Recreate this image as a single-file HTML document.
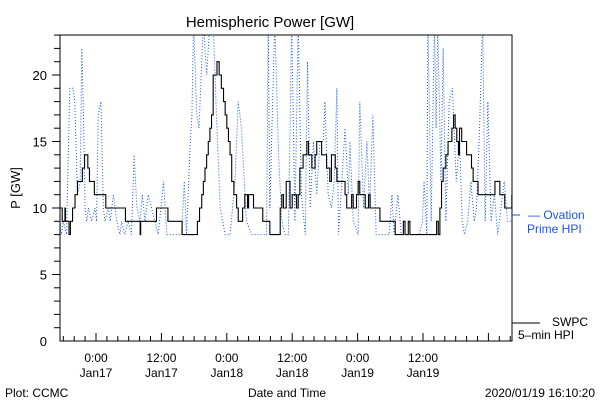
<!DOCTYPE html>
<html><head><meta charset="utf-8">
<style>
html,body{margin:0;padding:0;background:#fff;}
svg{display:block;font-family:"Liberation Sans",sans-serif;}
</style></head>
<body>
<svg id="chart" width="600" height="400" viewBox="0 0 600 400">
  <rect x="0" y="0" width="600" height="400" fill="#fff"/>
  <text x="270" y="27" font-size="15" text-anchor="middle">Hemispheric Power [GW]</text>
  <text transform="translate(20,188) rotate(-90)" font-size="13" text-anchor="middle">P [GW]</text>
  <defs><clipPath id="plotclip"><rect x="60" y="35" width="452" height="306"/></clipPath></defs>
  <g id="ticks"></g>
  <g id="series" clip-path="url(#plotclip)"></g>
  <path d="M60 35 V341 H512 V35 H60" fill="none" stroke="#000" stroke-width="1"/>
  <g>
    <line x1="512" y1="215" x2="520" y2="215" stroke="#1a55e6" stroke-width="1"/>
    <text x="528" y="219" font-size="12" fill="#1a55e6">— Ovation</text>
    <text x="527" y="233" font-size="12" fill="#1a55e6">Prime HPI</text>
  </g>
  <g>
    <line x1="512" y1="323" x2="540" y2="323" stroke="#000" stroke-width="1"/>
    <text x="552" y="326" font-size="12">SWPC</text>
    <text x="518" y="339" font-size="12">5–min HPI</text>
  </g>
  <text x="5" y="397" font-size="12">Plot: CCMC</text>
  <text x="287" y="397" font-size="12" text-anchor="middle">Date and Time</text>
  <text x="595" y="397" font-size="12" text-anchor="end">2020/01/19 16:10:20</text>
</svg>
<script>
// hours relative to 2020-01-17 00:00
const swpcTimes = [-6.6,-6.4,-6.2,-5.7,-5.6,-4.95,-4.7,-4.3,-3.85,-3.4,-2.5,-2.1,-1.5,-1.2,-0.3,1.8,5.4,8.1,8.2,11.1,13.2,15.8,18.2,18.6,19.0,19.4,19.7,20.0,20.3,20.6,20.9,21.2,21.5,22.0,22.2,22.6,23.0,23.4,23.7,24.0,24.3,24.6,24.9,25.3,25.8,26.1,26.7,26.9,27.3,27.8,28.0,28.8,28.9,30.4,30.6,31.8,31.9,33.5,33.8,34.1,34.4,34.9,35.3,35.6,36.0,36.8,37.1,37.4,38.0,38.7,39.0,39.6,40.2,40.5,41.1,41.4,42.0,42.3,42.9,43.2,43.9,44.2,45.1,45.7,46.0,46.9,47.2,47.8,48.1,48.4,49.4,50.0,50.3,50.6,51.8,52.1,54.6,54.9,56.1,56.4,56.7,57.3,57.6,62.2,62.5,62.8,63.1,63.4,63.7,64.2,64.6,65.3,65.6,65.9,66.2,66.5,66.7,67.1,67.7,68.0,68.6,68.9,69.2,70.1,72.9,73.2,73.8,74.1,74.7,75.0,76.0,76.3];
const swpcValues = [10,10,9,10,9,8,9,10,11,12,13,14,13,12,11,10,9,8,9,10,9,8,8,9,10,11,12,13,14,15,16,17,20,20,21,20,19,18,17,16,15,14,12,11,10,9,9,10,11,10,11,11,10,10,9,9,8,8,10,11,10,12,12,10,11,10,11,13,14,15,14,13,14,15,15,14,14,13,12,14,13,12,12,11,10,11,10,11,12,11,10,11,10,10,10,9,9,8,8,9,8,9,8,8,9,8,10,12,13,14,15,16,17,16,15,14,16,15,15,14,14,13,12,11,11,12,12,11,11,10,10,11];
const ovationTimes = [-6.6,-6.4,-6.0,-5.4,-5.2,-4.8,-4.2,-3.9,-3.4,-2.9,-2.6,-2.3,-2.0,-1.7,-1.4,-0.8,-0.2,0.1,0.4,0.9,1.35,1.65,2.3,2.6,3.2,3.8,4.4,4.7,5.3,5.9,6.5,7.0,7.5,8.1,8.5,9.0,9.6,10.2,10.8,11.4,12.4,13.0,14.5,15.7,16.2,16.6,17.3,17.6,17.9,18.5,18.9,19.4,19.7,20.3,20.9,21.5,22.1,22.8,23.7,24.6,25.5,26.1,26.7,27.6,28.6,31.3,31.6,31.9,32.8,33.5,34.1,34.7,35.3,35.9,36.5,37.1,37.7,38.4,38.8,39.3,39.9,40.5,41.1,41.7,42.0,42.6,43.2,43.7,44.2,44.5,45.1,45.7,46.3,46.6,47.2,48.1,48.4,49.1,49.7,50.2,50.8,51.4,53.8,54.3,54.7,55.4,56.0,59.3,59.9,60.2,60.7,60.9,61.5,62.1,62.4,62.7,63.3,63.7,64.2,64.8,65.4,66.1,66.7,67.2,67.6,68.2,68.8,69.4,69.8,70.3,70.95,71.4,71.9,72.5,73.1,73.7,74.3,74.9,75.5,76.3];
const ovationValues = [9,8,9,8,12,19,19,18,11,12,22,17,10,9,10,9,10,9,17,18,10,9,10,9,11,9,8,9,8,9,8,14,10,9,11,9,11,10,9,8,12,8,8,8,12,8,15,17,24,17,16,21,24,20,24,24,17,10,8,8,12,18,16,9,8,8,24,10,24,14,9,8,8,24,9,24,11,8,21,10,15,11,15,15,18,11,10,12,19,8,12,16,11,15,9,8,18,10,15,10,17,8,8,11,8,11,8,8,9,12,8,24,9,24,16,24,12,22,9,18,19,12,15,9,8,9,12,9,10,15,24,9,18,9,11,8,10,12,9,9];
const yTickLabels = ["0","5","10","15","20"];
const yTickValues = [0,5,10,15,20];
const xMajorHours = [0,12,24,36,48,60];
const xTimeLabels = ["0:00","12:00","0:00","12:00","0:00","12:00"];
const xDateLabels = ["Jan17","Jan17","Jan18","Jan18","Jan19","Jan19"];

const X0 = 96, PX_PER_HOUR = 5.45;
const Y0 = 341, PX_PER_GW = 13.3;
function xScale(h){ return X0 + h*PX_PER_HOUR; }
function yScale(v){ return Y0 - v*PX_PER_GW; }
const NS = "http://www.w3.org/2000/svg";
const ticks = document.getElementById('ticks');
const series = document.getElementById('series');

for(let v=1; v<=23; v++){
  const t = document.createElementNS(NS,'line');
  
  
  const major = v%5===0;
  t.setAttribute('x1', 60); t.setAttribute('x2', major?52:54);
  t.setAttribute('y1', yScale(v)); t.setAttribute('y2', yScale(v));
  t.setAttribute('stroke','#000');
  ticks.appendChild(t);
}
yTickValues.forEach((v,i)=>{
  const tx = document.createElementNS(NS,'text');
  
  
  tx.setAttribute('x', 47); tx.setAttribute('y', yScale(v)+5);
  tx.setAttribute('font-size','13'); tx.setAttribute('text-anchor','end');
  tx.textContent = yTickLabels[i];
  ticks.appendChild(tx);
});
for(let h=-6; h<=76; h+=2){
  const x = xScale(h);
  if(x<60||x>512) continue;
  const major = ((h%12)+12)%12===0;
  const t = document.createElementNS(NS,'line');
  
  
  t.setAttribute('x1', x); t.setAttribute('x2', x);
  t.setAttribute('y1', 341); t.setAttribute('y2', major?333:336);
  t.setAttribute('stroke','#000');
  ticks.appendChild(t);
}
xMajorHours.forEach((h,i)=>{
  const a = document.createElementNS(NS,'text');
  
  
  a.setAttribute('x', xScale(h)); a.setAttribute('y', 362);
  a.setAttribute('font-size','12'); a.setAttribute('text-anchor','middle');
  a.textContent = xTimeLabels[i];
  ticks.appendChild(a);
  const b = document.createElementNS(NS,'text');
  
  
  b.setAttribute('x', xScale(h)); b.setAttribute('y', 377);
  b.setAttribute('font-size','12'); b.setAttribute('text-anchor','middle');
  b.textContent = xDateLabels[i];
  ticks.appendChild(b);
});
const op = document.createElementNS(NS,'polyline');


op.setAttribute('points', ovationTimes.map((h,i)=>xScale(h)+','+yScale(ovationValues[i])).join(' '));
op.setAttribute('fill','none'); op.setAttribute('stroke','#1a55e6');
op.setAttribute('stroke-width','1'); op.setAttribute('stroke-dasharray','1 2');
series.appendChild(op);
// swpc (black solid, stepped)
let pts = [];
swpcTimes.forEach((h,i)=>{
  if(i>0) pts.push(xScale(h)+','+yScale(swpcValues[i-1]));
  pts.push(xScale(h)+','+yScale(swpcValues[i]));
});
const sp = document.createElementNS(NS,'polyline');


sp.setAttribute('points', pts.join(' '));
sp.setAttribute('fill','none'); sp.setAttribute('stroke','#000');
sp.setAttribute('stroke-width','1.1');
series.appendChild(sp);
</script>
</body></html>
